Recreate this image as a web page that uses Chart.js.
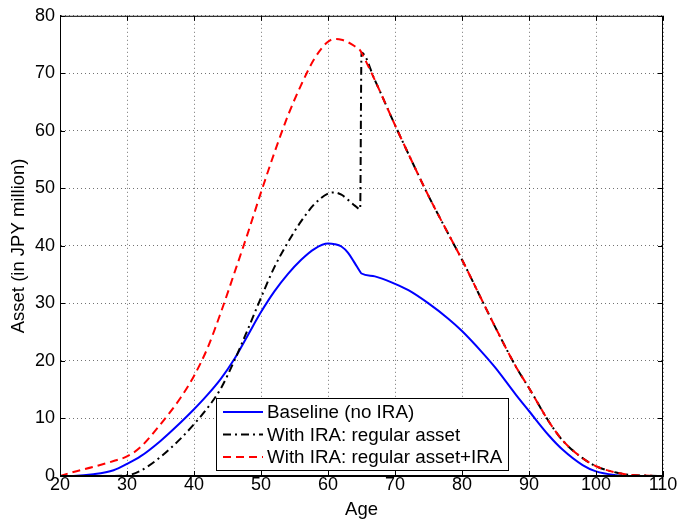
<!DOCTYPE html>
<html>
<head>
<meta charset="utf-8">
<script src="https://cdn.jsdelivr.net/npm/chart.js@4"></script>
<style>
  html, body { margin: 0; padding: 0; background: #fff; }
  #wrap { width: 680px; height: 523px; }
</style>
</head>
<body>
<div id="wrap"><canvas id="chart" width="680" height="523"></canvas></div>
<script>
const ages = [20, 22, 25, 28, 30, 32, 35, 38, 40, 42, 44, 46, 48, 50, 52, 54, 56, 58, 60, 61, 62, 63, 64, 64.8,
              65, 67, 70, 72, 75, 78, 80, 83, 85, 88, 90, 93, 95, 98, 100, 103, 105, 108, 110];

const baseline = [0, 0.02, 0.3, 1.0, 2.1, 3.4, 6.1, 9.3, 11.6, 14.1, 16.9, 20.3, 24.4, 28.5, 32.1, 35.1, 37.6, 39.5, 40.4, 40.3, 39.9, 38.8, 37.0, 35.5,
                  35.2, 34.7, 33.4, 32.3, 30.0, 27.3, 25.2, 21.5, 18.8, 14.2, 11.3, 7.0, 4.6, 1.9, 0.8, 0.15, 0, 0, 0];

const iraRegular = [0, 0, 0, 0, 0.1, 0.9, 3.3, 6.5, 9.0, 11.8, 15.2, 20.0, 25.4, 31.0, 36.3, 40.6, 44.3, 47.3, 49.1, 49.3, 48.9, 48.0, 47.0, 46.4,
                    73.6, 68.8, 61.0, 56.0, 48.7, 42.0, 37.6, 30.5, 25.8, 19.1, 15.3, 9.4, 6.2, 3.1, 1.7, 0.6, 0.2, 0.05, 0];

const iraTotal = [0, 0.7, 1.6, 2.6, 3.4, 5.0, 9.0, 13.6, 17.4, 22.2, 28.4, 35.2, 42.1, 49.3, 56.2, 62.6, 68.0, 72.6, 75.5, 75.95, 75.85, 75.4, 74.7, 74.0,
                  73.6, 68.8, 61.0, 56.0, 48.7, 42.0, 37.6, 30.5, 25.8, 19.1, 15.3, 9.4, 6.2, 3.1, 1.7, 0.6, 0.2, 0.05, 0];

const xTicks = [20, 30, 40, 50, 60, 70, 80, 90, 100, 110];
const yTicks = [0, 10, 20, 30, 40, 50, 60, 70, 80];

const FONT = "'Liberation Sans', Arial, Helvetica, sans-serif";

function points(vals) {
    return ages.map((a, i) => ({ x: a, y: vals[i] }));
}

// box, inward ticks and legend drawn like the original figure
const boxPlugin = {
    id: 'box',
    afterDatasetsDraw(chart) {
        const ctx = chart.ctx;
        const a = chart.chartArea;
        const xs = chart.scales.x, ys = chart.scales.y;
        ctx.save();
        ctx.strokeStyle = '#000';
        ctx.lineWidth = 1;
        ctx.setLineDash([]);
        ctx.strokeRect(a.left + 0.5, a.top + 0.5, a.right - a.left - 1, a.bottom - a.top - 1);
        ctx.beginPath();
        xTicks.forEach(t => {
            const px = Math.round(xs.getPixelForValue(t)) + 0.5;
            ctx.moveTo(px, a.bottom); ctx.lineTo(px, a.bottom - 5);
            ctx.moveTo(px, a.top); ctx.lineTo(px, a.top + 5);
        });
        yTicks.forEach(t => {
            const py = Math.round(ys.getPixelForValue(t)) + 0.5;
            ctx.moveTo(a.left, py); ctx.lineTo(a.left + 5, py);
            ctx.moveTo(a.right, py); ctx.lineTo(a.right - 5, py);
        });
        ctx.stroke();

        // legend
        const lx = 216, ly = 398, lw = 292, lh = 72;
        ctx.fillStyle = '#fff';
        ctx.fillRect(lx, ly, lw, lh);
        ctx.strokeRect(lx + 0.5, ly + 0.5, lw, lh);
        ctx.font = '18.8px ' + FONT;
        ctx.textBaseline = 'middle';
        const rows = [412, 434.5, 457];
        chart.data.datasets.forEach((ds, i) => {
            const y = rows[i];
            ctx.strokeStyle = ds.borderColor;
            ctx.lineWidth = ds.borderWidth;
            ctx.setLineDash(ds.borderDash || []);
            ctx.beginPath();
            ctx.moveTo(223, y); ctx.lineTo(263, y);
            ctx.stroke();
            ctx.fillStyle = '#000';
            ctx.fillText(ds.label, 267, y + 1);
        });
        ctx.restore();
    }
};

const config = {
    type: 'line',
    data: {
        datasets: [
            {
                label: 'Baseline (no IRA)',
                data: points(baseline),
                borderColor: '#0000ff',
                borderWidth: 2,
                order: 2,
            },
            {
                label: 'With IRA: regular asset',
                data: points(iraRegular),
                borderColor: '#000000',
                borderWidth: 2,
                borderDash: [8, 4, 2, 4],
                order: 1,
            },
            {
                label: 'With IRA: regular asset+IRA',
                data: points(iraTotal),
                borderColor: '#ff0000',
                borderWidth: 2,
                borderDash: [8, 5],
                order: 0,
            },
        ]
    },
    options: {
        responsive: false,
        animation: false,
        events: [],
        layout: { padding: { top: 10, right: 17, left: 0, bottom: 0 } },
        elements: {
            point: { radius: 0 },
            line: { cubicInterpolationMode: 'monotone', fill: false },
        },
        plugins: {
            legend: { display: false },
            tooltip: { enabled: false },
        },
        scales: {
            x: {
                type: 'linear',
                min: 20,
                max: 110,
                afterBuildTicks: (scale) => { scale.ticks = xTicks.map(v => ({ value: v })); },
                afterFit: (scale) => { scale.height = 47; },
                grid: { color: 'rgba(0,0,0,0.55)', drawTicks: false },
                border: { display: true, color: '#000', dash: [1, 3] },
                ticks: { color: '#000', padding: -2, maxRotation: 0, font: { family: FONT, size: 18 } },
                title: {
                    display: true,
                    text: 'Age',
                    color: '#000',
                    font: { family: FONT, size: 18.5 },
                    padding: { top: 0, bottom: 2 },
                },
            },
            y: {
                min: 0,
                max: 80,
                afterBuildTicks: (scale) => { scale.ticks = yTicks.map(v => ({ value: v })); },
                afterFit: (scale) => { scale.width = 60; },
                grid: { color: 'rgba(0,0,0,0.55)', drawTicks: false },
                border: { display: true, color: '#000', dash: [1, 3] },
                ticks: { color: '#000', padding: 5, font: { family: FONT, size: 18 } },
                title: {
                    display: true,
                    text: 'Asset (in JPY million)',
                    color: '#000',
                    font: { family: FONT, size: 18.5 },
                    padding: { top: 8, bottom: 0 },
                },
            },
        },
    },
    plugins: [boxPlugin],
};

new Chart(document.getElementById('chart'), config);
</script>
</body>
</html>
